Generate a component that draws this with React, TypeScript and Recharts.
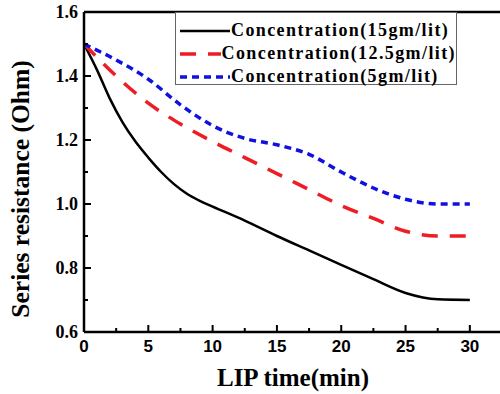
import React from 'react';
import { LineChart, Line, XAxis, YAxis, ReferenceLine } from 'recharts';

// LIP time (min) for each series
const timesBlack = [0, 1, 2, 3, 4, 5, 6, 7, 8, 9, 10, 12.5, 15, 17.5, 20, 22.5, 25, 27.5, 30];
const conc15 = [1.5, 1.42, 1.33, 1.255, 1.195, 1.145, 1.1, 1.062, 1.032, 1.01, 0.992, 0.948, 0.9, 0.855, 0.81, 0.765, 0.722, 0.702, 0.7];

const timesOther = [0, 2.5, 5, 7.5, 10, 12.5, 15, 17.5, 20, 22.5, 25, 27.5, 30];
const conc12_5 = [1.5, 1.4, 1.315, 1.25, 1.195, 1.145, 1.095, 1.045, 0.995, 0.955, 0.915, 0.9, 0.9];
const conc5 = [1.5, 1.45, 1.39, 1.31, 1.245, 1.205, 1.185, 1.155, 1.1, 1.05, 1.015, 1.0, 1.0];

const xTicks = [0, 2.5, 5, 7.5, 10, 12.5, 15, 17.5, 20, 22.5, 25, 27.5, 30];
const yTicks = [0.6, 0.7, 0.8, 0.9, 1.0, 1.1, 1.2, 1.3, 1.4, 1.5, 1.6];

const seriesNames = ['Concentration(15gm/lit)', 'Concentration(12.5gm/lit)', 'Concentration(5gm/lit)'];

const toRows = (t: number[], v: number[]) => t.map((x, i) => ({ t: x, v: v[i] }));

const data15 = toRows(timesBlack, conc15);
const data12 = toRows(timesOther, conc12_5);
const data5 = toRows(timesOther, conc5);

const SERIF = '"Liberation Serif", "Times New Roman", serif';
const SANS = '"Liberation Sans", Arial, sans-serif';

const styles = [
  { color: '#000000', width: 2.5, dash: undefined as string | undefined },
  { color: '#ee1c25', width: 3.5, dash: '16 12' },
  { color: '#1010e0', width: 3.5, dash: '7 5' },
];

const XTick = (props: any) => {
  const { x, y, payload } = props;
  const v = payload.value;
  const major = Math.abs(v % 5) < 1e-6;
  return (
    <g>
      <line x1={x} x2={x} y1={y} y2={y - (major ? 7 : 4)} stroke="#000" strokeWidth={2} />
      {major && (
        <text x={x} y={y + 20} textAnchor="middle" fontFamily={SANS} fontWeight="bold" fontSize={17} fill="#000">
          {v}
        </text>
      )}
    </g>
  );
};

const YTick = (props: any) => {
  const { x, y, payload } = props;
  const v = payload.value;
  const major = Math.round(v * 10) % 2 === 0;
  return (
    <g>
      <line x1={x} x2={x + (major ? 7 : 4)} y1={y} y2={y} stroke="#000" strokeWidth={2} />
      {major && (
        <text x={x - 6} y={y + 6} textAnchor="end" fontFamily={SERIF} fontWeight="bold" fontSize={18} fill="#000">
          {v.toFixed(1)}
        </text>
      )}
    </g>
  );
};

const YLabel = () => (
  <text
    x={29}
    y={189}
    transform="rotate(-90, 29, 189)"
    textAnchor="middle"
    fontFamily={SERIF}
    fontWeight="bold"
    fontSize={25.5}
    fill="#000"
  >
    Series resistance (Ohm)
  </text>
);

const ChartLegend = () => (
  <div
    style={{
      position: 'absolute',
      left: 175,
      top: 12,
      width: 282,
      height: 73,
      boxSizing: 'border-box',
      border: '1px solid #666',
      background: '#fff',
      paddingTop: 6,
    }}
  >
    {seriesNames.map((name, i) => (
      <div key={name} style={{ display: 'flex', alignItems: 'center', height: 23 }}>
        <svg width={50} height={10} style={{ marginLeft: 4, marginRight: 1 }}>
          <line
            x1={0}
            x2={50}
            y1={5}
            y2={5}
            stroke={styles[i].color}
            strokeWidth={styles[i].width}
            strokeDasharray={styles[i].dash}
          />
        </svg>
        <span
          style={{
            fontFamily: SERIF,
            fontWeight: 'bold',
            fontSize: 18,
            letterSpacing: 1.4,
            color: '#000',
            whiteSpace: 'nowrap',
          }}
        >
          {name}
        </span>
      </div>
    ))}
  </div>
);

const App: React.FC = () => {
  return (
    <div style={{ position: 'absolute', left: 0, top: 0, width: 500, height: 394, overflow: 'hidden', background: '#fff' }}>
      <LineChart width={520} height={394} margin={{ top: 12, right: 18, left: 0, bottom: 0 }}>
        <XAxis
          dataKey="t"
          type="number"
          domain={[0, 32.5]}
          ticks={xTicks}
          allowDataOverflow
          height={62}
          tickSize={0}
          tickMargin={0}
          tickLine={false}
          tick={<XTick />}
          axisLine={{ stroke: '#000', strokeWidth: 2.5 }}
          label={{
            value: 'LIP time(min)',
            position: 'insideBottom',
            offset: 8,
            style: { fontFamily: SERIF, fontWeight: 'bold', fontSize: 25, fill: '#000' },
          }}
        />
        <YAxis
          dataKey="v"
          type="number"
          domain={[0.6, 1.6]}
          ticks={yTicks}
          allowDataOverflow
          width={84}
          tickSize={0}
          tickMargin={0}
          tickLine={false}
          tick={<YTick />}
          axisLine={{ stroke: '#000', strokeWidth: 2.5 }}
          label={<YLabel />}
        />
        <ReferenceLine y={1.6} stroke="#000" strokeWidth={2.5} />
        <Line data={data15} dataKey="v" type="monotone" stroke={styles[0].color} strokeWidth={styles[0].width} dot={false} isAnimationActive={false} />
        <Line data={data12} dataKey="v" type="monotone" stroke={styles[1].color} strokeWidth={styles[1].width} strokeDasharray={styles[1].dash} dot={false} isAnimationActive={false} />
        <Line data={data5} dataKey="v" type="monotone" stroke={styles[2].color} strokeWidth={styles[2].width} strokeDasharray={styles[2].dash} dot={false} isAnimationActive={false} />
      </LineChart>
      <ChartLegend />
    </div>
  );
};

export default App;
